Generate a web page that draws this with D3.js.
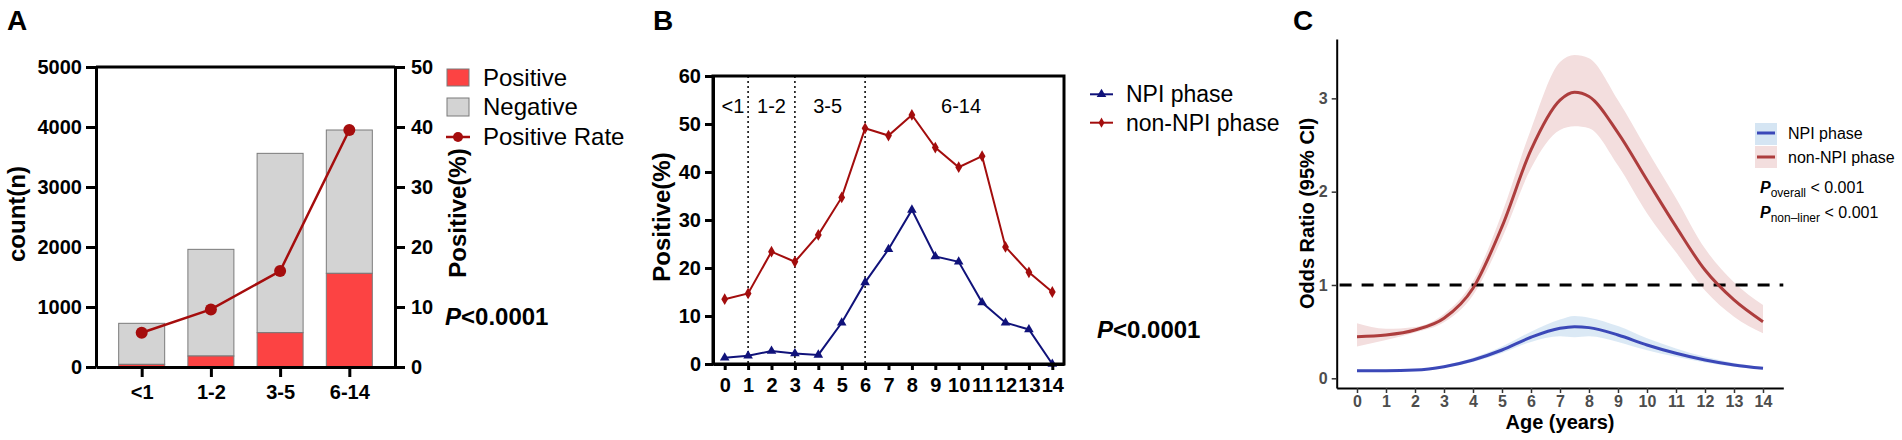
<!DOCTYPE html>
<html>
<head>
<meta charset="utf-8">
<script src="https://cdn.jsdelivr.net/npm/d3@7"></script>
<style>
  body { margin: 0; background: #fff; }
  text { font-family: "Liberation Sans", Arial, sans-serif; }
</style>
</head>
<body>
<script>
// ---- Panel A data
const ageGroups = ["<1", "1-2", "3-5", "6-14"];
const positiveCount = [44, 183, 572, 1561];
const negativeCount = [684, 1778, 2989, 2389];
const positiveRate = [5.7, 9.6, 16.0, 39.5];
const countTicks = [0, 1000, 2000, 3000, 4000, 5000];
const rateTicks = [0, 10, 20, 30, 40, 50];

// ---- Panel B data
const ages = [0, 1, 2, 3, 4, 5, 6, 7, 8, 9, 10, 11, 12, 13, 14];
const npiRate = [1.3, 1.7, 2.7, 2.2, 1.9, 8.6, 17.0, 23.9, 32.1, 22.4, 21.3, 12.8, 8.6, 7.2, 0];
const nonNpiRate = [13.5, 14.7, 23.4, 21.3, 26.9, 34.7, 49.1, 47.6, 51.9, 45.1, 41.0, 43.3, 24.4, 19.1, 15.0];
const groupBreaks = [1, 3, 6];
const groupLabels = ["<1", "1-2", "3-5", "6-14"];
const groupLabelAge = [0.35, 2, 4.4, 10.1];
const percentTicks = [0, 10, 20, 30, 40, 50, 60];

// ---- Panel C data (spline odds ratios)
const splineAge = [0, 1, 2, 3, 4, 5, 6, 7, 7.5, 8, 9, 10, 11, 12, 13, 14];
const nonNpiOR   = [0.446, 0.464, 0.518, 0.643, 0.965, 1.625, 2.447, 2.98, 3.065, 3.02, 2.63, 2.125, 1.625, 1.16, 0.84, 0.607];
const nonNpiLow  = [0.34, 0.41, 0.49, 0.60, 0.89, 1.50, 2.25, 2.66, 2.70, 2.68, 2.28, 1.77, 1.35, 0.94, 0.66, 0.482];
const nonNpiHigh = [0.59, 0.53, 0.55, 0.69, 1.04, 1.77, 2.67, 3.39, 3.465, 3.43, 2.98, 2.45, 1.93, 1.39, 1.03, 0.786];
const npiOR   = [0.081, 0.081, 0.088, 0.124, 0.196, 0.303, 0.44, 0.536, 0.553, 0.543, 0.464, 0.357, 0.268, 0.196, 0.143, 0.107];
const npiLow  = [0.07, 0.072, 0.08, 0.112, 0.175, 0.27, 0.39, 0.45, 0.44, 0.45, 0.39, 0.30, 0.23, 0.17, 0.125, 0.095];
const npiHigh = [0.095, 0.092, 0.098, 0.138, 0.22, 0.34, 0.50, 0.63, 0.668, 0.65, 0.56, 0.43, 0.32, 0.23, 0.165, 0.12];
const orTicks = [0, 1, 2, 3];

const fmt = d3.format("d");

const svg = d3.select("body").append("svg")
  .attr("width", 1902)
  .attr("height", 440);

function styleAxis(g, width, color, size, weight) {
  g.selectAll(".tick line").attr("stroke", color.line).attr("stroke-width", width);
  g.selectAll(".tick text").attr("fill", color.text)
    .style("font-size", size + "px").style("font-weight", weight);
  g.select(".domain").attr("stroke", color.line).attr("stroke-width", width);
}
const black = { line: "#000", text: "#000" };

function rotatedTitle(x, y, txt, size) {
  svg.append("text")
    .attr("transform", `translate(${x},${y}) rotate(-90)`)
    .attr("text-anchor", "middle").attr("dy", "0.35em")
    .style("font-size", size + "px").style("font-weight", "bold")
    .text(txt);
}

function pText(x, y, size) {
  const t = svg.append("text").attr("x", x).attr("y", y).attr("dy", "0.35em")
    .style("font-size", size + "px").style("font-weight", "bold");
  t.append("tspan").style("font-style", "italic").text("P");
  t.append("tspan").text("<0.0001");
}

function panelLabel(x, txt) {
  svg.append("text").attr("x", x).attr("y", 30)
    .style("font-size", "28px").style("font-weight", "bold").text(txt);
}

// ================= Panel A
panelLabel(7, "A");
const xA = d3.scalePoint().domain(ageGroups).range([96, 395]).padding(0.66);
const yA = d3.scaleLinear().domain([0, 5000]).range([367, 67]);
const yA2 = d3.scaleLinear().domain([0, 50]).range([367, 67]);
const barW = 46;

const gA = svg.append("g");
gA.selectAll("rect.neg").data(ageGroups).join("rect")
  .attr("x", d => xA(d) - barW / 2)
  .attr("y", (d, i) => yA(positiveCount[i] + negativeCount[i]))
  .attr("width", barW)
  .attr("height", (d, i) => yA(positiveCount[i]) - yA(positiveCount[i] + negativeCount[i]))
  .attr("fill", "#d3d3d3").attr("stroke", "#7a7a7a").attr("stroke-width", 1);
gA.selectAll("rect.pos").data(ageGroups).join("rect")
  .attr("x", d => xA(d) - barW / 2)
  .attr("y", (d, i) => yA(positiveCount[i]))
  .attr("width", barW)
  .attr("height", (d, i) => yA(0) - yA(positiveCount[i]))
  .attr("fill", "#fc4343").attr("stroke", "#7a7a7a").attr("stroke-width", 1);

svg.append("g").attr("transform", "translate(96,0)")
  .call(d3.axisLeft(yA).tickValues(countTicks).tickFormat(fmt).tickSize(10).tickPadding(4).tickSizeOuter(0))
  .call(g => styleAxis(g, 3, black, 20, "bold"));
svg.append("g").attr("transform", "translate(395,0)")
  .call(d3.axisRight(yA2).tickValues(rateTicks).tickFormat(fmt).tickSize(10).tickPadding(6).tickSizeOuter(0))
  .call(g => styleAxis(g, 3, black, 20, "bold"));
svg.append("g").attr("transform", "translate(0,367)")
  .call(d3.axisBottom(xA).tickSize(10).tickPadding(8).tickSizeOuter(0))
  .call(g => styleAxis(g, 3, black, 20, "bold"));
svg.append("line").attr("x1", 96).attr("x2", 395).attr("y1", 67).attr("y2", 67)
  .attr("stroke", "#000").attr("stroke-width", 3);

const rateLine = d3.line().x((d, i) => xA(ageGroups[i])).y(d => yA2(d));
svg.append("path").datum(positiveRate).attr("d", rateLine)
  .attr("fill", "none").attr("stroke", "#a50d0d").attr("stroke-width", 2.5);
svg.selectAll("circle.rate").data(positiveRate).join("circle")
  .attr("cx", (d, i) => xA(ageGroups[i])).attr("cy", d => yA2(d)).attr("r", 6)
  .attr("fill", "#a50d0d");

rotatedTitle(17, 214, "count(n)", 24);
rotatedTitle(458, 213, "Positive(%)", 24);

// legend A
const legA = svg.append("g");
legA.append("rect").attr("x", 447).attr("y", 69).attr("width", 22).attr("height", 17)
  .attr("fill", "#fc4343").attr("stroke", "#7a7a7a");
legA.append("rect").attr("x", 447).attr("y", 98).attr("width", 22).attr("height", 18)
  .attr("fill", "#d3d3d3").attr("stroke", "#7a7a7a");
legA.append("line").attr("x1", 446).attr("x2", 470).attr("y1", 137).attr("y2", 137)
  .attr("stroke", "#a50d0d").attr("stroke-width", 2.5);
legA.append("circle").attr("cx", 458).attr("cy", 137).attr("r", 5).attr("fill", "#a50d0d");
["Positive", "Negative", "Positive Rate"].forEach((t, i) => {
  legA.append("text").attr("x", 483).attr("y", [78, 107, 137][i]).attr("dy", "0.35em")
    .style("font-size", "24px").text(t);
});
pText(445, 317, 24);

// ================= Panel B
panelLabel(653, "B");
const xB = d3.scaleLinear().domain([-0.5, 14.5]).range([713, 1064]);
const yB = d3.scaleLinear().domain([0, 60]).range([364, 76]);
const blueB = "#10127a", redB = "#a30d0d";

svg.selectAll("line.brk").data(groupBreaks).join("line")
  .attr("x1", d => xB(d)).attr("x2", d => xB(d)).attr("y1", 76).attr("y2", 364)
  .attr("stroke", "#000").attr("stroke-width", 1.5).attr("stroke-dasharray", "2,3");
svg.selectAll("text.grp").data(groupLabels).join("text")
  .attr("x", (d, i) => xB(groupLabelAge[i])).attr("y", 106).attr("dy", "0.35em")
  .attr("text-anchor", "middle").style("font-size", "20px").text(d => d);

const lineB = d3.line().x((d, i) => xB(ages[i])).y(d => yB(d));
svg.append("path").datum(nonNpiRate).attr("d", lineB)
  .attr("fill", "none").attr("stroke", redB).attr("stroke-width", 2);
svg.append("path").datum(npiRate).attr("d", lineB)
  .attr("fill", "none").attr("stroke", blueB).attr("stroke-width", 2);
const diamond = d3.symbol(d3.symbolDiamond, 40);
const triangle = d3.symbol(d3.symbolTriangle, 40);
svg.selectAll("path.dia").data(nonNpiRate).join("path")
  .attr("transform", (d, i) => `translate(${xB(ages[i])},${yB(d)})`)
  .attr("d", diamond).attr("fill", redB);
svg.selectAll("path.tri").data(npiRate).join("path")
  .attr("transform", (d, i) => `translate(${xB(ages[i])},${yB(d)})`)
  .attr("d", triangle).attr("fill", blueB);

svg.append("g").attr("transform", "translate(713,0)")
  .call(d3.axisLeft(yB).tickValues(percentTicks).tickFormat(fmt).tickSize(8).tickPadding(4).tickSizeOuter(0))
  .call(g => styleAxis(g, 3, black, 20, "bold"));
svg.append("g").attr("transform", "translate(0,364)")
  .call(d3.axisBottom(xB).tickValues(ages).tickFormat(fmt).tickSize(6).tickPadding(8).tickSizeOuter(0))
  .call(g => styleAxis(g, 3, black, 20, "bold"));
svg.append("rect").attr("x", 713).attr("y", 76).attr("width", 1064 - 713).attr("height", 364 - 76)
  .attr("fill", "none").attr("stroke", "#000").attr("stroke-width", 3);
rotatedTitle(662, 217, "Positive(%)", 24);

const legB = svg.append("g");
[[94.3, blueB, triangle, "NPI phase"], [122.7, redB, d3.symbol(d3.symbolDiamond, 30), "non-NPI phase"]]
  .forEach(([y, c, sym, t]) => {
    legB.append("line").attr("x1", 1090).attr("x2", 1113).attr("y1", y).attr("y2", y)
      .attr("stroke", c).attr("stroke-width", 2);
    legB.append("path").attr("transform", `translate(1101.5,${y})`).attr("d", sym).attr("fill", c);
    legB.append("text").attr("x", 1126).attr("y", y).attr("dy", "0.35em")
      .style("font-size", "23px").text(t);
  });
pText(1097, 330, 24);

// ================= Panel C
panelLabel(1293, "C");
const xC = d3.scaleLinear().domain([-0.7, 14.7]).range([1336.7, 1783.3]);
const yC = d3.scaleLinear().domain([-0.104, 3.636]).range([388, 39]);
const blueC = "#3b48b8", redC = "#ad3d3d";

const band = (lo, hi) => d3.area().curve(d3.curveMonotoneX)
  .x((d, i) => xC(splineAge[i])).y0((d, i) => yC(lo[i])).y1((d, i) => yC(hi[i]));
const lineC = d3.line().curve(d3.curveMonotoneX)
  .x((d, i) => xC(splineAge[i])).y(d => yC(d));

svg.append("path").datum(nonNpiOR).attr("d", band(nonNpiLow, nonNpiHigh))
  .attr("fill", "#f3dede");
svg.append("path").datum(npiOR).attr("d", band(npiLow, npiHigh))
  .attr("fill", "#d5e5f3").attr("fill-opacity", 0.85);
svg.append("line").attr("x1", xC(-0.6)).attr("x2", xC(14.7)).attr("y1", yC(1)).attr("y2", yC(1))
  .attr("stroke", "#000").attr("stroke-width", 3).attr("stroke-dasharray", "12,10");
svg.append("path").datum(nonNpiOR).attr("d", lineC)
  .attr("fill", "none").attr("stroke", redC).attr("stroke-width", 3);
svg.append("path").datum(npiOR).attr("d", lineC)
  .attr("fill", "none").attr("stroke", blueC).attr("stroke-width", 3);

const gray = { line: "#333", text: "#4d4d4d" };
svg.append("g").attr("transform", "translate(1336.7,0)")
  .call(d3.axisLeft(yC).tickValues(orTicks).tickFormat(fmt).tickSize(5).tickPadding(4).tickSizeOuter(0))
  .call(g => styleAxis(g, 1.5, gray, 16, "bold"))
  .call(g => g.select(".domain").attr("stroke", "#000").attr("stroke-width", 2));
svg.append("g").attr("transform", "translate(0,388)")
  .call(d3.axisBottom(xC).tickValues(ages).tickFormat(fmt).tickSize(5).tickPadding(3).tickSizeOuter(0))
  .call(g => styleAxis(g, 1.5, gray, 16, "bold"))
  .call(g => g.select(".domain").attr("stroke", "#000").attr("stroke-width", 2));
rotatedTitle(1306.7, 213.5, "Odds Ratio (95% CI)", 20);
svg.append("text").attr("x", 1560).attr("y", 429).attr("text-anchor", "middle")
  .style("font-size", "20px").style("font-weight", "bold").text("Age (years)");

const legC = svg.append("g");
[[123, 133, "#d5e5f3", blueC, "NPI phase"], [146, 157, "#f3dede", redC, "non-NPI phase"]]
  .forEach(([ry, ly, fill, c, t]) => {
    legC.append("rect").attr("x", 1755).attr("y", ry).attr("width", 22).attr("height", 22).attr("fill", fill);
    legC.append("line").attr("x1", 1757).attr("x2", 1775).attr("y1", ly).attr("y2", ly)
      .attr("stroke", c).attr("stroke-width", 3);
    legC.append("text").attr("x", 1788).attr("y", ly).attr("dy", "0.35em")
      .style("font-size", "16px").text(t);
  });
[[193, "overall"], [218, "non\u2013liner"]].forEach(([y, sub]) => {
  const t = legC.append("text").attr("x", 1760).attr("y", y).style("font-size", "16px");
  t.append("tspan").style("font-style", "italic").style("font-weight", "bold").text("P");
  t.append("tspan").attr("dy", 4).style("font-size", "12px").text(sub);
  t.append("tspan").attr("dy", -4).text(" < 0.001");
});
</script>
</body>
</html>
